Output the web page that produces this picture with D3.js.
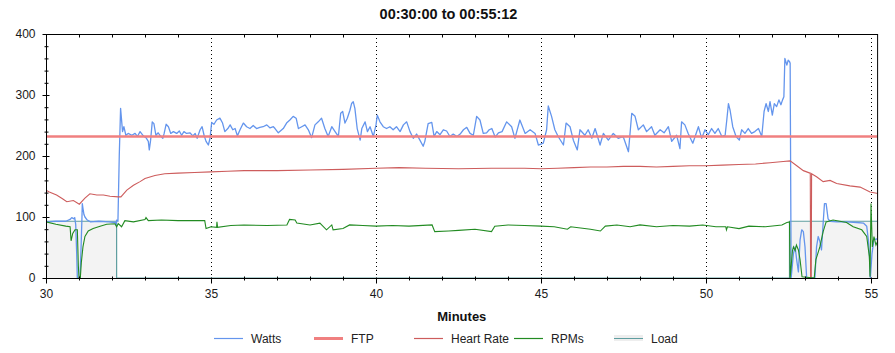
<!DOCTYPE html>
<html>
<head>
<meta charset="utf-8">
<script src="https://cdn.jsdelivr.net/npm/d3@7"></script>
<style>
  html, body { margin: 0; padding: 0; background: #fff; }
  svg { display: block; font-family: "Liberation Sans", Arial, sans-serif; }
</style>
</head>
<body>
<svg id="chart" width="895" height="353"></svg>
<script>
// ---------------- data ----------------
const title = "00:30:00 to 00:55:12";
const xLabel = "Minutes";
const xDomain = [30, 55.2];
const yDomain = [0, 400];
const xTicks = [30, 35, 40, 45, 50, 55];
const yTicks = [0, 100, 200, 300, 400];
const gridMinutes = [35, 40, 45, 50, 55];
const legendNames = ["Watts", "FTP", "Heart Rate", "RPMs", "Load"];

const ftpValue = 232;

// [minute, watts]
const watts = [
  [30.00,92],[30.30,93],[30.60,93],[30.73,96],[30.78,99],[30.85,97],[30.87,99],[30.90,88],[30.93,40],
  [30.95,0],[31.03,0],[31.06,45],[31.09,100],[31.10,122],[31.12,114],[31.15,104],[31.18,100],[31.25,95],
  [31.35,92],[31.60,93],[31.90,92],[32.10,91],[32.12,87],[32.14,95],[32.18,93],[32.22,200],[32.26,278],
  [32.32,240],[32.36,248],[32.42,234],[32.49,237],[32.60,234],[32.70,237],[32.77,232],[32.85,240],
  [32.95,233],[33.03,230],[33.10,224],[33.13,210],[33.17,226],[33.22,256],[33.27,253],[33.33,234],
  [33.40,238],[33.45,234],[33.54,229],[33.58,237],[33.64,252],[33.71,248],[33.78,237],[33.86,240],
  [33.96,237],[34.04,241],[34.11,234],[34.18,240],[34.26,237],[34.36,238],[34.45,233],[34.52,237],
  [34.58,229],[34.67,243],[34.73,248],[34.79,234],[34.85,224],[34.92,218],[34.97,229],[35.02,255],
  [35.09,252],[35.17,259],[35.27,262],[35.35,254],[35.42,240],[35.51,245],[35.58,251],[35.66,243],
  [35.73,245],[35.80,233],[35.88,243],[35.98,254],[36.08,248],[36.18,245],[36.28,250],[36.38,245],
  [36.48,247],[36.58,248],[36.69,251],[36.79,246],[36.89,248],[36.94,245],[37.04,238],[37.19,245],
  [37.29,254],[37.39,259],[37.49,265],[37.58,262],[37.65,245],[37.75,248],[37.85,251],[37.95,243],
  [38.05,230],[38.15,251],[38.25,256],[38.35,262],[38.45,245],[38.55,232],[38.66,248],[38.76,240],
  [38.86,232],[38.93,270],[38.99,273],[39.06,254],[39.13,262],[39.21,275],[39.26,286],[39.31,289],
  [39.36,278],[39.43,245],[39.52,226],[39.57,245],[39.67,256],[39.74,240],[39.82,248],[39.92,232],
  [40.00,251],[40.04,267],[40.12,256],[40.22,248],[40.32,245],[40.42,248],[40.52,243],[40.62,248],
  [40.73,240],[40.83,251],[40.93,256],[41.03,240],[41.13,229],[41.23,236],[41.33,226],[41.43,216],
  [41.48,224],[41.58,253],[41.69,255],[41.76,232],[41.84,240],[41.94,235],[42.04,243],[42.14,241],
  [42.24,232],[42.34,236],[42.45,232],[42.55,236],[42.65,243],[42.75,247],[42.85,237],[42.95,234],
  [43.05,265],[43.15,259],[43.25,237],[43.35,238],[43.43,243],[43.51,245],[43.61,231],[43.71,238],
  [43.82,240],[43.96,256],[44.11,248],[44.21,229],[44.36,259],[44.52,237],[44.67,243],[44.82,237],
  [44.92,218],[45.07,221],[45.17,243],[45.22,282],[45.32,265],[45.42,243],[45.52,232],[45.68,218],
  [45.76,254],[45.88,248],[45.98,226],[46.10,210],[46.18,243],[46.33,234],[46.43,243],[46.54,229],
  [46.64,245],[46.79,218],[46.89,237],[47.04,226],[47.19,237],[47.34,229],[47.49,232],[47.65,207],
  [47.75,270],[47.85,265],[47.95,243],[48.10,251],[48.20,240],[48.35,248],[48.45,234],[48.61,243],
  [48.73,238],[48.86,248],[48.96,224],[49.11,234],[49.21,212],[49.26,256],[49.36,251],[49.46,237],
  [49.60,221],[49.67,232],[49.77,248],[49.87,229],[49.97,243],[50.07,235],[50.17,245],[50.27,237],
  [50.37,245],[50.48,232],[50.58,234],[50.63,259],[50.68,286],[50.73,275],[50.81,248],[50.91,232],
  [51.01,226],[51.08,243],[51.18,237],[51.28,245],[51.38,237],[51.48,240],[51.59,245],[51.69,232],
  [51.76,273],[51.82,286],[51.89,273],[51.94,289],[52.01,267],[52.07,286],[52.14,281],[52.21,292],
  [52.27,284],[52.32,292],[52.36,297],[52.39,360],[52.45,349],[52.49,357],[52.53,355],[52.55,352],
  [52.58,0],[52.65,40],[52.70,51],[52.75,29],[52.80,10],[52.85,62],[52.90,79],[52.95,76],[53.00,51],
  [53.05,0],[53.30,0],[53.35,51],[53.40,68],[53.45,60],[53.50,46],[53.55,90],[53.59,122],[53.64,122],
  [53.70,97],[53.76,93],[53.96,92],[54.26,92],[54.57,91],[54.77,90],[54.87,85],[54.92,62],[54.95,40],
  [54.98,0],[55.03,40],[55.09,63],[55.17,64],[55.20,62]
];

// [minute, bpm]
const heartRate = [
  [30.00,144],[30.10,141],[30.32,136],[30.50,130],[30.63,125],[30.83,127],[31.01,121],[31.18,131],
  [31.33,138],[31.54,136],[31.74,136],[31.94,134],[32.19,133],[32.27,133],[32.45,144],[32.65,152],
  [32.85,158],[33.00,163],[33.30,168],[33.60,171],[34.00,172],[34.50,173],[35.00,174],[35.50,175],
  [36.00,176],[37.00,176],[38.00,177],[39.00,178],[40.00,180],[40.70,181],[41.50,180],[42.50,179],
  [43.50,180],[44.50,180],[45.00,179],[45.50,180],[46.00,181],[46.50,182],[47.00,182],[47.50,183],
  [48.00,183],[48.50,182],[49.00,183],[49.50,184],[50.00,184],[50.50,185],[51.00,186],[51.50,187],
  [51.94,189],[52.34,191],[52.55,192],[52.75,184],[52.95,176],[53.15,172],[53.16,172],[53.17,0],
  [53.19,0],[53.20,171],[53.35,166],[53.55,158],[53.76,160],[53.96,155],[54.36,151],[54.67,149],
  [54.97,141],[55.17,139],[55.20,139]
];

// [minute, rpm]
const rpms = [
  [30.00,92],[30.30,88],[30.60,85],[30.73,84],[30.76,61],[30.81,73],[30.88,79],[30.95,79],[30.98,20],
  [31.00,0],[31.04,0],[31.07,25],[31.12,51],[31.18,68],[31.28,77],[31.43,81],[31.64,85],[31.84,88],
  [32.09,89],[32.14,84],[32.19,89],[32.29,84],[32.39,94],[32.65,92],[33.00,96],[33.03,99],[33.10,94],
  [33.50,95],[34.00,94],[34.50,94],[34.81,94],[34.85,81],[35.00,84],[35.17,83],[35.18,92],[35.20,83],
  [35.60,86],[36.00,87],[36.70,86],[37.30,87],[37.38,96],[37.55,95],[37.60,90],[38.00,87],[38.30,90],
  [38.50,79],[38.66,87],[38.70,79],[39.00,81],[39.20,87],[39.60,86],[40.00,85],[40.50,86],[41.00,85],
  [41.70,87],[41.78,76],[42.20,77],[42.50,78],[43.00,80],[43.50,76],[43.60,85],[44.00,87],[44.50,86],
  [45.00,85],[45.40,84],[45.80,80],[45.90,84],[46.50,80],[46.80,77],[46.95,85],[47.30,87],[47.70,84],
  [48.00,87],[48.50,84],[49.00,86],[49.50,85],[49.90,87],[50.30,84],[50.60,84],[50.62,79],[50.65,84],
  [51.00,81],[51.30,85],[51.80,84],[52.30,87],[52.45,91],[52.53,92],[52.55,0],[52.62,45],[52.65,51],
  [52.70,45],[52.74,54],[52.80,46],[52.85,30],[52.91,2],[53.28,0],[53.33,30],[53.45,51],[53.55,76],
  [53.64,92],[53.85,95],[54.26,91],[54.46,84],[54.72,79],[54.87,68],[54.95,35],[54.97,2],[55.00,122],
  [55.04,51],[55.09,68],[55.15,54],[55.20,60]
];

// [minute, load]
const load = [
  [30.00,93],[32.14,93],[32.14,0],[52.53,0],[52.53,93],[55.20,93]
];

// ---------------- drawing ----------------
const svg = d3.select("#chart");
const W = 895, H = 353;
const plot = { left: 46, right: 877.6, top: 34, bottom: 278 };

const x = d3.scaleLinear().domain(xDomain).range([plot.left, plot.right]);
const y = d3.scaleLinear().domain(yDomain).range([plot.bottom, plot.top]);

const colors = {
  watts: "#6495ed",
  ftp: "#f08080",
  hr: "#cd5c5c",
  rpm: "#228b22",
  loadLine: "#5f9ea0",
  loadFill: "#f3f3f3"
};

// clip
svg.append("defs").append("clipPath").attr("id", "clip")
  .append("rect").attr("x", plot.left).attr("y", plot.top)
  .attr("width", plot.right - plot.left).attr("height", plot.bottom - plot.top);

// title
svg.append("text").attr("x", W / 2 + 1).attr("y", 19).attr("text-anchor", "middle")
  .attr("font-size", 14.5).attr("font-weight", "bold").attr("fill", "#111").text(title);

// grid lines (vertical dotted)
svg.append("g").selectAll("line").data(gridMinutes).join("line")
  .attr("x1", d => Math.round(x(d)) + 0.5).attr("x2", d => Math.round(x(d)) + 0.5)
  .attr("y1", plot.top).attr("y2", plot.bottom)
  .attr("stroke", "#000").attr("stroke-width", 1).attr("stroke-dasharray", "1,3");

const series = svg.append("g").attr("clip-path", "url(#clip)");

// load area
const loadArea = d3.area().x(d => x(d[0])).y0(y(0)).y1(d => y(d[1]));
series.append("path").datum(load).attr("d", loadArea).attr("fill", colors.loadFill);

const line = d3.line().x(d => x(d[0])).y(d => y(d[1]));

series.append("path").datum(load).attr("d", line)
  .attr("fill", "none").attr("stroke", colors.loadLine).attr("stroke-width", 1.2);

series.append("path").datum(watts).attr("d", line)
  .attr("fill", "none").attr("stroke", colors.watts).attr("stroke-width", 1.3)
  .attr("stroke-linejoin", "round");

series.append("path").datum([[xDomain[0], ftpValue], [xDomain[1], ftpValue]]).attr("d", line)
  .attr("fill", "none").attr("stroke", colors.ftp).attr("stroke-width", 2.6);

series.append("path").datum(heartRate).attr("d", line)
  .attr("fill", "none").attr("stroke", colors.hr).attr("stroke-width", 1.1);

series.append("path").datum(rpms).attr("d", line)
  .attr("fill", "none").attr("stroke", colors.rpm).attr("stroke-width", 1.1);

// frame
svg.append("rect").attr("x", plot.left + 0.5).attr("y", plot.top + 0.5)
  .attr("width", plot.right - plot.left - 0.5).attr("height", plot.bottom - plot.top)
  .attr("fill", "none").attr("stroke", "#000").attr("stroke-width", 1);

// Y axis
const yAxisG = svg.append("g").attr("transform", `translate(${plot.left + 0.5},0)`)
  .call(d3.axisLeft(y).tickValues(yTicks).tickSize(4).tickPadding(7).tickFormat(d3.format("d")));
yAxisG.select(".domain").remove();
yAxisG.selectAll(".tick line").attr("x1", 3).attr("x2", -4).attr("stroke", "#000");
yAxisG.selectAll(".tick text").attr("font-size", 12).attr("fill", "#1a1a1a")
  .attr("font-family", "Liberation Sans, Arial, sans-serif");

const yMinorG = svg.append("g").attr("transform", `translate(${plot.left + 0.5},0)`)
  .call(d3.axisLeft(y).tickValues(d3.range(0, 401, 20).filter(v => v % 100 !== 0)).tickSize(2).tickFormat(""));
yMinorG.select(".domain").remove();
yMinorG.selectAll(".tick line").attr("x1", 2).attr("x2", -2).attr("stroke", "#000");

// X axis
const xAxisG = svg.append("g").attr("transform", `translate(0,${plot.bottom + 0.5})`)
  .call(d3.axisBottom(x).tickValues(xTicks).tickSize(5).tickPadding(6).tickFormat(d3.format("d")));
xAxisG.select(".domain").remove();
xAxisG.selectAll(".tick line").attr("y1", -1).attr("y2", 5).attr("stroke", "#000");
xAxisG.selectAll(".tick text").attr("font-size", 12).attr("fill", "#1a1a1a")
  .attr("font-family", "Liberation Sans, Arial, sans-serif");

const xMinorG = svg.append("g").attr("transform", `translate(0,${plot.bottom + 0.5})`)
  .call(d3.axisBottom(x).tickValues(d3.range(31, 55, 1).filter(v => v % 5 !== 0)).tickSize(2).tickFormat(""));
xMinorG.select(".domain").remove();
xMinorG.selectAll(".tick line").attr("y1", -2).attr("y2", 2).attr("stroke", "#000");

// top minor ticks
const xTopG = svg.append("g").attr("transform", `translate(0,${plot.top + 0.5})`)
  .call(d3.axisTop(x).tickValues(d3.range(31, 55, 1).filter(v => v % 5 !== 0)).tickSize(3).tickFormat(""));
xTopG.select(".domain").remove();
xTopG.selectAll(".tick line").attr("y1", 0).attr("y2", 3).attr("stroke", "#000");

// x label
svg.append("text").attr("x", (plot.left + plot.right) / 2).attr("y", 321)
  .attr("text-anchor", "middle").attr("font-size", 13).attr("font-weight", "bold")
  .attr("fill", "#111").text(xLabel);

// legend
const legend = svg.append("g").attr("transform", "translate(214,338)");
const items = legend.selectAll("g").data(legendNames).join("g")
  .attr("transform", (d, i) => `translate(${i * 100},0)`);
items.each(function (d, i) {
  const g = d3.select(this);
  if (d === "Load") {
    g.append("rect").attr("x", 0).attr("y", -3).attr("width", 29).attr("height", 6).attr("fill", "#eeeeee");
    g.append("line").attr("x1", 0).attr("x2", 29).attr("y1", 0.5).attr("y2", 0.5)
      .attr("stroke", colors.loadLine).attr("stroke-width", 1);
  } else {
    const c = [colors.watts, colors.ftp, colors.hr, colors.rpm][i];
    g.append("line").attr("x1", 0).attr("x2", 29).attr("y1", 0.5).attr("y2", 0.5)
      .attr("stroke", c).attr("stroke-width", d === "FTP" ? 3 : 1.2);
  }
  g.append("text").attr("x", 37).attr("y", 4.5).attr("font-size", 12)
    .attr("fill", "#222").text(d);
});
</script>
</body>
</html>
